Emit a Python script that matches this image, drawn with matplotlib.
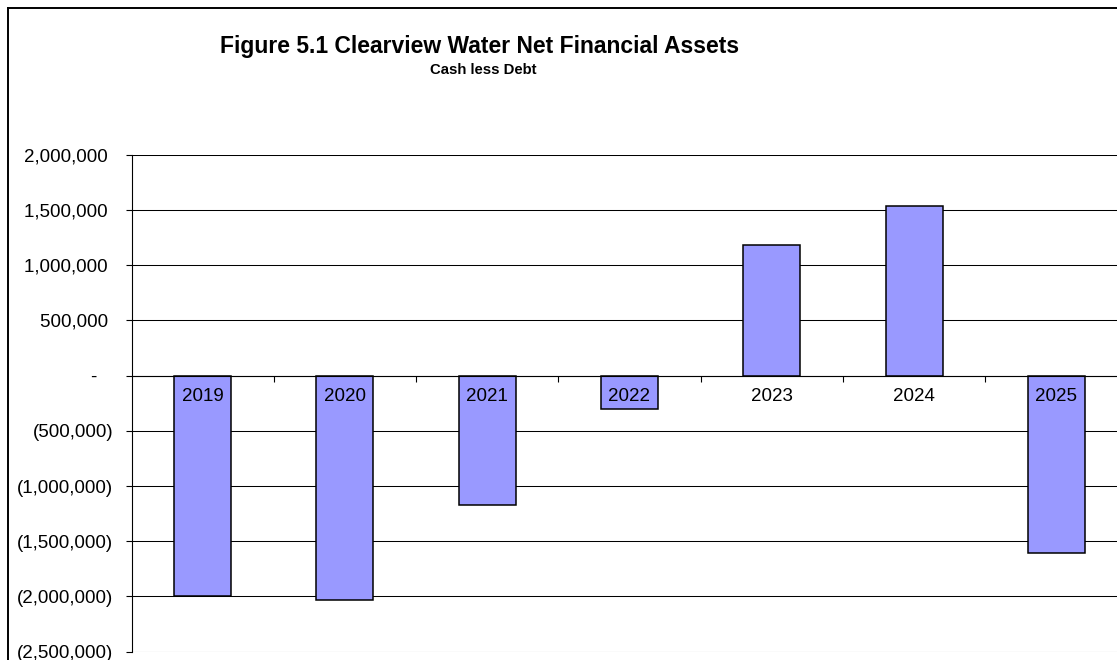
import matplotlib
matplotlib.use('Agg')
import matplotlib.pyplot as plt
from matplotlib.ticker import FuncFormatter, MultipleLocator
from matplotlib.lines import Line2D

plt.rcParams['font.family'] = ['Liberation Sans', 'DejaVu Sans']

# net financial assets (cash less debt) by year
years = ['2019', '2020', '2021', '2022', '2023', '2024', '2025']
net_assets = [-2000000, -2030000, -1170000, -300000, 1180000, 1540000, -1605000]


def accounting(v, pos):
    # accounting style: dash for zero, brackets for negatives
    if abs(v) < 1:
        return '-   '
    if v < 0:
        return '({:,.0f})'.format(-v)
    return '{:,.0f} '.format(v)


W, H = 1117, 660
fig = plt.figure(figsize=(W / 100, H / 100), dpi=100)
ax = fig.add_axes([131.5 / W, 8.3 / H, 996 / W, 497 / H])

x = range(len(years))
ax.bar(x, net_assets, width=0.4, color='#9999FF', edgecolor='black',
       linewidth=1.1, zorder=1)

ax.set_xlim(-0.5, len(years) - 0.5)
ax.set_ylim(-2500000, 2000000)
ax.yaxis.set_major_locator(MultipleLocator(500000))
ax.yaxis.set_major_formatter(FuncFormatter(accounting))

# category axis sits on the zero line, labels drawn over the bars
ax.spines['bottom'].set_position(('data', 0))
ax.spines['top'].set_visible(False)
ax.spines['right'].set_visible(False)
for s in ['bottom', 'left']:
    ax.spines[s].set_linewidth(0.8)
ax.set_xticks(list(x))
ax.set_xticklabels(years)
ax.set_xticks([i + 0.5 for i in range(len(years) - 1)], minor=True)
ax.tick_params(axis='x', which='major', length=0, pad=9, labelsize=13.5)
ax.tick_params(axis='x', which='minor', length=4.3, width=0.8, direction='out')
ax.tick_params(axis='y', length=4.3, width=0.8, pad=9, labelsize=13.5)

ax.yaxis.grid(True, color='black', linewidth=0.75)
ax.set_axisbelow(True)
ax.xaxis.set_zorder(3)

fig.text(480 / W, 1 - 53 / H, 'Figure 5.1 Clearview Water Net Financial Assets',
         ha='center', va='baseline', fontsize=16.5, fontweight='bold')
fig.text(483.5 / W, 1 - 74.5 / H, 'Cash less Debt',
         ha='center', va='baseline', fontsize=10.7, fontweight='bold')

# chart frame
fig.add_artist(Line2D([8 / W, 8 / W], [0, 1 - 8 / H], color='black', linewidth=1.4))
fig.add_artist(Line2D([8 / W, 1], [1 - 8 / H, 1 - 8 / H], color='black', linewidth=1.4))

fig.savefig('out.png', dpi=100)
